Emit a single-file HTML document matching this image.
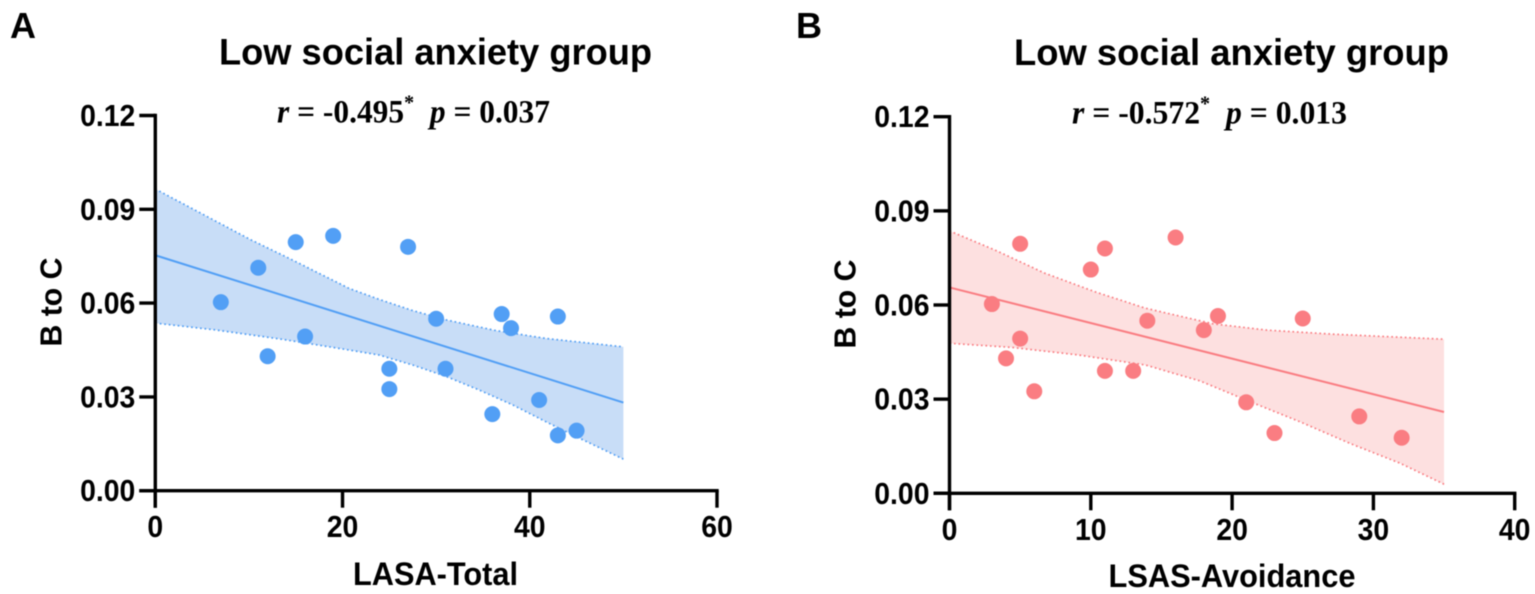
<!DOCTYPE html>
<html lang="en">
<head>
<meta charset="utf-8">
<title>Low social anxiety group correlations</title>
<style>
html,body{margin:0;padding:0;background:#fff;width:1535px;height:594px;overflow:hidden}
svg{display:block;filter:blur(.4px)}
.sans{font-family:"Liberation Sans",Arial,sans-serif;font-weight:700;fill:#000}
.serif{font-family:"Liberation Serif","Times New Roman",serif;font-weight:700;fill:#000}
</style>
</head>
<body>
<svg id="figure" xmlns="http://www.w3.org/2000/svg" width="1535" height="594" viewBox="0 0 1535 594">
  <rect width="1535" height="594" fill="#fff"/>
  <text class="sans" x="10" y="38" font-size="36">A</text>
  <text class="sans" x="796" y="38" font-size="36">B</text>
  <text class="sans" x="219" y="64.5" font-size="37" textLength="433" lengthAdjust="spacingAndGlyphs">Low social anxiety group</text>
  <text class="sans" x="1014" y="65" font-size="37" textLength="435" lengthAdjust="spacingAndGlyphs">Low social anxiety group</text>
  <text class="serif" x="277" y="122.5" font-size="33" textLength="273" lengthAdjust="spacingAndGlyphs" xml:space="preserve"><tspan font-style="italic">r</tspan> = -0.495<tspan font-size="21" dy="-13">*</tspan><tspan dy="13">  </tspan><tspan font-style="italic">p</tspan> = 0.037</text>
  <text class="serif" x="1072" y="123.5" font-size="33" textLength="275" lengthAdjust="spacingAndGlyphs" xml:space="preserve"><tspan font-style="italic">r</tspan> = -0.572<tspan font-size="21" dy="-13">*</tspan><tspan dy="13">  </tspan><tspan font-style="italic">p</tspan> = 0.013</text>
  <text class="sans" x="353" y="585" font-size="32" textLength="165" lengthAdjust="spacingAndGlyphs">LASA-Total</text>
  <text class="sans" x="1108.5" y="587" font-size="32" textLength="247" lengthAdjust="spacingAndGlyphs">LSAS-Avoidance</text>
  <text class="sans" font-size="31" text-anchor="middle" transform="translate(61.5 302) rotate(-90)" textLength="89" lengthAdjust="spacingAndGlyphs">B to C</text>
  <text class="sans" font-size="31" text-anchor="middle" transform="translate(855.5 304) rotate(-90)" textLength="89" lengthAdjust="spacingAndGlyphs">B to C</text>
  <g id="panel-a"></g>
  <g id="panel-b"></g>
</svg>
<script>
const yTickValues = [0, 0.03, 0.06, 0.09, 0.12];
const yTickLabels = ["0.00", "0.03", "0.06", "0.09", "0.12"];

const aXTicks = [0, 20, 40, 60];
const aPointsX = [7, 11, 12, 15, 16, 19, 25, 25, 27, 30, 31, 36, 37, 38, 41, 43, 43, 45];
const aPointsY = [0.0603, 0.0713, 0.043, 0.0795, 0.0493, 0.0815, 0.039, 0.0325, 0.078, 0.055, 0.039, 0.0245, 0.0565, 0.052, 0.029, 0.0557, 0.0177, 0.0192];
const aFitX = [0, 50];
const aFitY = [0.0753, 0.0282];
const aUpperX = [0, 10.1, 14.3, 20.7, 23.9, 27.5, 31.1, 36.4, 41.7, 50];
const aUpperY = [0.0965, 0.0804, 0.0743, 0.0647, 0.0612, 0.0576, 0.0546, 0.0512, 0.0487, 0.046];
const aLowerX = [0, 6.5, 13.6, 20.7, 23.9, 27.5, 31.1, 34.6, 38.2, 41.7, 45.3, 50];
const aLowerY = [0.0536, 0.0514, 0.0484, 0.045, 0.0434, 0.0402, 0.0365, 0.0322, 0.0274, 0.0221, 0.0168, 0.0101];

const bXTicks = [0, 10, 20, 30, 40];
const bPointsX = [3, 10, 4, 5, 5, 16, 11, 6, 11, 14, 13, 29, 19, 18, 21, 25, 32, 23];
const bPointsY = [0.0603, 0.0713, 0.043, 0.0795, 0.0493, 0.0815, 0.039, 0.0325, 0.078, 0.055, 0.039, 0.0245, 0.0565, 0.052, 0.029, 0.0557, 0.0177, 0.0192];
const bFitX = [0, 35];
const bFitY = [0.0656, 0.0259];
const bUpperX = [0, 3.22, 6.76, 10.3, 13.85, 18.66, 22.45, 27.14, 35];
const bUpperY = [0.0836, 0.0775, 0.0701, 0.0642, 0.059, 0.054, 0.052, 0.0507, 0.0491];
const bLowerX = [0, 4.4, 9.1, 13.85, 17.73, 21.27, 24.8, 28.34, 31.88, 35];
const bLowerY = [0.0478, 0.0465, 0.0441, 0.0409, 0.0358, 0.0292, 0.0228, 0.0159, 0.0096, 0.0029];

const NS = "http://www.w3.org/2000/svg";

function make(parent, tag, attrs) {
  const el = document.createElementNS(NS, tag);
  for (const k in attrs) el.setAttribute(k, attrs[k]);
  parent.appendChild(el);
  return el;
}

function toPts(xs, ys, sx, sy) {
  return xs.map((v, i) => sx(v).toFixed(2) + "," + sy(ys[i]).toFixed(2));
}

function condense(label) {
  label.setAttribute("textLength", (label.getComputedTextLength() * 0.93).toFixed(2));
  label.setAttribute("lengthAdjust", "spacingAndGlyphs");
}

function drawPanel(cfg) {
  const root = document.getElementById(cfg.id);
  const sx = v => cfg.x0 + (v - cfg.xTicks[0]) / (cfg.xTicks[cfg.xTicks.length - 1] - cfg.xTicks[0]) * (cfg.x1 - cfg.x0);
  const sy = v => cfg.y0 + (v - yTickValues[0]) / (yTickValues[yTickValues.length - 1] - yTickValues[0]) * (cfg.y1 - cfg.y0);

  const upper = toPts(cfg.upperX, cfg.upperY, sx, sy);
  const lower = toPts(cfg.lowerX, cfg.lowerY, sx, sy);

  const band = make(root, "polygon", { points: upper.concat(lower.slice().reverse()).join(" "), fill: cfg.band });
  
  

  const upperLine = make(root, "polyline", { points: upper.join(" "), fill: "none", stroke: cfg.color, "stroke-width": 1.7, "stroke-dasharray": "1.7 2.8" });
  
  

  const lowerLine = make(root, "polyline", { points: lower.join(" "), fill: "none", stroke: cfg.color, "stroke-width": 1.7, "stroke-dasharray": "1.7 2.8" });
  
  

  const fit = make(root, "polyline", { points: toPts(cfg.fitX, cfg.fitY, sx, sy).join(" "), fill: "none", stroke: cfg.color, "stroke-width": 2 });
  
  

  cfg.pointsX.forEach((v, i) => {
    const dot = make(root, "circle", { cx: sx(v).toFixed(2), cy: sy(cfg.pointsY[i]).toFixed(2), r: 8, fill: cfg.color });
    
    
  });

  const yAxis = make(root, "line", { x1: cfg.x0, x2: cfg.x0, y1: sy(yTickValues[yTickValues.length - 1]) - 1.7, y2: sy(0) + 17, stroke: "#000", "stroke-width": 3.4 });
  
  

  const xAxis = make(root, "line", { x1: cfg.x0 - 16, x2: sx(cfg.xTicks[cfg.xTicks.length - 1]) + 1.7, y1: sy(0), y2: sy(0), stroke: "#000", "stroke-width": 3.4 });
  
  

  yTickValues.forEach((v, i) => {
    const tick = make(root, "line", { x1: cfg.x0 - 16, x2: cfg.x0, y1: sy(v), y2: sy(v), stroke: "#000", "stroke-width": 3.4 });
    
    
    const label = make(root, "text", { x: cfg.x0 - 20, y: sy(v) + 10.5, "text-anchor": "end", "font-size": 30.5, class: "sans" });
    
    
    label.textContent = yTickLabels[i];
    condense(label);
  });

  cfg.xTicks.forEach(v => {
    const tick = make(root, "line", { x1: sx(v), x2: sx(v), y1: sy(0), y2: sy(0) + 17, stroke: "#000", "stroke-width": 3.4 });
    
    
    const label = make(root, "text", { x: sx(v), y: sy(0) + 46.5, "text-anchor": "middle", "font-size": 30.5, class: "sans" });
    
    
    label.textContent = String(v);
    condense(label);
  });
}

drawPanel({
  id: "panel-a", x0: 155.3, x1: 717, y0: 490.7, y1: 115.5,
  xTicks: aXTicks, pointsX: aPointsX, pointsY: aPointsY,
  fitX: aFitX, fitY: aFitY, upperX: aUpperX, upperY: aUpperY, lowerX: aLowerX, lowerY: aLowerY,
  color: "#529ff5", band: "#c8ddf7"
});
drawPanel({
  id: "panel-b", x0: 949.5, x1: 1514.7, y0: 493.3, y1: 116.7,
  xTicks: bXTicks, pointsX: bPointsX, pointsY: bPointsY,
  fitX: bFitX, fitY: bFitY, upperX: bUpperX, upperY: bUpperY, lowerX: bLowerX, lowerY: bLowerY,
  color: "#fa7d82", band: "#fde0e0"
});
</script>
</body>
</html>
